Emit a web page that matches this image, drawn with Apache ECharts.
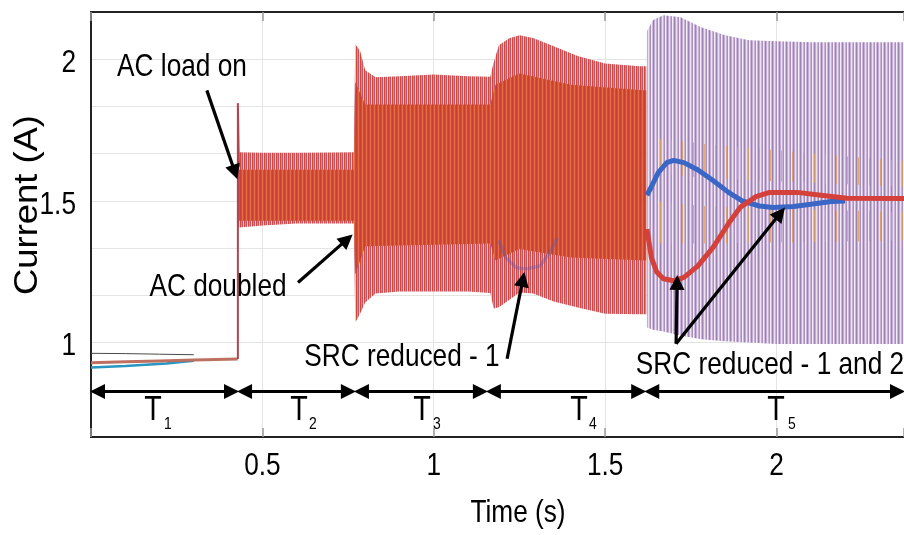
<!DOCTYPE html>
<html><head><meta charset="utf-8">
<script src="https://cdn.jsdelivr.net/npm/echarts@6/dist/echarts.min.js"></script>
<style>html,body{margin:0;padding:0;background:#fff}#c{width:904px;height:535px}</style>
</head><body><div id="c"></div>
<script>
// ---------------- data ----------------
const xTickValues = [0.5, 1, 1.5, 2];
const yTickValues = [1, 1.5, 2];
// T1 traces (time s, current A)
const t1Grey = [[0,0.962],[0.1,0.961],[0.2,0.959],[0.3,0.957]];
const t1Red  = [[0,0.929],[0.1,0.932],[0.2,0.935],[0.3,0.938],[0.428,0.942]];
const t1Blue = [[0,0.912],[0.1,0.917],[0.22,0.926],[0.3,0.936]];
// AC load switching spike
const spike = [[0.4285,0.942],[0.4285,1.845],[0.4305,1.845],[0.4315,1.62]];
// oscillation envelope T2..T4
const envT  = [0.429,0.432,0.50,0.60,0.70,0.767,0.771,0.785,0.80,0.83,0.90,1.00,1.10,1.165,1.175,1.19,1.22,1.25,1.29,1.35,1.42,1.50,1.60,1.620];
const envUp = [1.672,1.672,1.670,1.670,1.671,1.672,2.053,2.030,1.961,1.936,1.940,1.946,1.940,1.938,1.989,2.049,2.074,2.085,2.075,2.046,2.011,1.985,1.975,1.975];
const envLo = [1.406,1.406,1.413,1.420,1.420,1.420,1.071,1.102,1.141,1.173,1.180,1.180,1.180,1.175,1.120,1.125,1.150,1.177,1.173,1.145,1.124,1.102,1.100,1.100];
// dense core of the oscillation T2..T4
const coreT  = [0.432,0.767,0.771,0.80,1.165,1.18,1.25,1.40,1.620];
const coreUp = [1.610,1.610,1.920,1.840,1.840,1.910,1.950,1.910,1.890];
const coreLo = [1.430,1.430,1.240,1.340,1.350,1.290,1.330,1.300,1.290];
// oscillation envelope T5
const t5T  = [1.622,1.64,1.67,1.72,1.78,1.85,1.92,2.00,2.10,2.20,2.372];
const t5Up = [2.099,2.138,2.155,2.148,2.113,2.085,2.067,2.063,2.060,2.060,2.060];
const t5Lo = [1.053,1.045,1.039,1.025,1.012,1.005,1.000,0.995,0.995,0.995,0.995];
// orange trace peaks / troughs inside T5
const orT    = [1.64,1.80,2.372];
const orHiUp = [1.72,1.70,1.64];
const orHiLo = [1.60,1.58,1.55];
const orLoUp = [1.50,1.48,1.46];
const orLoLo = [1.35,1.35,1.36];
// SRC-1 mean current dip in T4
const dipT4 = [[1.19,1.36],[1.21,1.30],[1.24,1.265],[1.27,1.26],[1.31,1.27],[1.34,1.32],[1.36,1.37]];
// SRC mean currents in T5
const blueT5 = [[1.622,1.52],[1.635,1.55],[1.655,1.60],[1.68,1.635],[1.70,1.643],[1.73,1.635],[1.77,1.61],[1.815,1.572],[1.86,1.53],[1.90,1.50],[1.95,1.482],[1.99,1.477],[2.05,1.48],[2.10,1.488],[2.16,1.498],[2.20,1.50]];
const redT5  = [[1.622,1.40],[1.635,1.30],[1.65,1.25],[1.67,1.225],[1.70,1.218],[1.73,1.23],[1.77,1.27],[1.815,1.336],[1.86,1.42],[1.894,1.477],[1.94,1.515],[1.98,1.53],[2.06,1.53],[2.13,1.52],[2.206,1.509],[2.372,1.508]];
// period boundaries
const periodBounds = [0, 0.429, 0.770, 1.155, 1.617, 2.372];
const periodNames = ['1','2','3','4','5'];

// ---------------- helpers ----------------
const SANS = '"Liberation Sans",Arial,sans-serif';
const NARROW_SCALE = 0.82;
function stripes(cols, h) {
  const c = document.createElement('canvas');
  c.width = cols.length; c.height = h || 4;
  const ctx = c.getContext('2d');
  cols.forEach((col, i) => { ctx.fillStyle = col; ctx.fillRect(i, 0, 1, c.height); });
  return { image: c, repeat: 'repeat' };
}
function bandSeries(id, ts, lo, hi, fill, z) {
  return { type:'custom', id:id, z:z, silent:true, animation:false, clip:true,
    data: ts.map((t,i)=>[t, lo[i], hi[i]]),
    encode:{x:0, y:[1,2]},
    renderItem: function (params, api) {
      if (params.dataIndexInside !== 0) return null;
      const n = params.dataInsideLength, top = [], bot = [];
      for (let i = 0; i < n; i++) {
        top.push(api.coord([api.value(0,i), api.value(2,i)]));
        bot.push(api.coord([api.value(0,i), api.value(1,i)]));
      }
      return { type:'polygon', shape:{points: top.concat(bot.reverse())}, style:{fill: fill, stroke: null} };
    }
  };
}
function line(id, data, color, width, z, opacity) {
  return { type:'line', id:id, data:data, symbol:'none', silent:true, animation:false, z:z,
    lineStyle:{color:color, width:width, opacity: opacity==null?1:opacity} };
}

const outerFill = stripes(['#d04a3a','#e3884e','#bd5870','#eec2b6']);
const coreFill  = stripes(['#cc3e35','#d64c3b','#e07044','#ca4a46']);
const t5Fill    = stripes(['#f2ecf4','#cdb9da','#9d80b4','#c5aed5','#ebe2ef','#c8b2d7','#a98ec1']);
const TR = 'rgba(0,0,0,0)';
const orFill    = stripes(['rgba(222,158,90,0.8)',TR,TR,TR,TR,TR,TR,TR,TR,TR,TR]);

// annotation arrows (data coordinates)
const arrowLines = [
  [[0.338,1.890],[0.420,1.601]],
  [[0.604,1.212],[0.747,1.364]],
  [[1.214,0.943],[1.260,1.223]],
  [[1.707,0.996],[1.710,1.212]],
  [[1.707,0.996],[2.011,1.456]]
];
const HALF = 0.019;
const markData = arrowLines.map(p => [{coord:p[0], symbol:'none'},{coord:p[1], symbol:'triangle'}]);
for (let i = 0; i < 5; i++) {
  markData.push([{coord:[periodBounds[i]+HALF,0.827], symbol:'triangle'},{coord:[periodBounds[i+1]-HALF,0.827], symbol:'triangle'}]);
}

const series = [].concat(
  [line('t1grey', t1Grey, '#4a4a4a', 1, 3), line('t1blue', t1Blue, '#2796c2', 2.5, 3), line('t1red', t1Red, '#bd7060', 3, 4)],
  [line('spike', spike, '#b04450', 2, 5)],
  [bandSeries('env', envT, envLo, envUp, outerFill, 5)],
  [bandSeries('core', coreT, coreLo, coreUp, coreFill, 6)],
  [line('dip', dipT4, '#6a58a8', 3.5, 7, 0.42)],
  [bandSeries('t5', t5T, t5Lo, t5Up, t5Fill, 5)],
  [bandSeries('or5a', orT, orHiLo, orHiUp, orFill, 6)],
  [bandSeries('or5b', orT, orLoLo, orLoUp, orFill, 6)],
  [line('blue5', blueT5, '#3a66c6', 5, 8)],
  [Object.assign(line('red5', redT5, '#d4403a', 5, 9), {
    markLine: { silent:true, animation:false, z:30, symbolSize:15, label:{show:false},
      lineStyle:{color:'#000', width:3.2, type:'solid'}, emphasis:{disabled:true}, data: markData }
  })]
);

const chart = echarts.init(document.getElementById('c'), null, {renderer:'canvas'});
chart.setOption({
  animation:false,
  backgroundColor:'#fff',
  grid:{left:91, right:0, top:12, bottom:98},
  xAxis:[{
    type:'value', min:0, max:2.372, interval:0.5,
    axisLine:{show:true, lineStyle:{color:'#222', width:2}},
    axisTick:{show:true, inside:true, length:9, lineStyle:{color:'#999', width:1.5}},
    splitLine:{show:true, lineStyle:{color:'#e4e4e4', width:1}},
    axisLabel:{show:false}
  },{
    type:'value', position:'top', min:0, max:2.372, interval:0.5,
    axisLine:{show:true, lineStyle:{color:'#222', width:2}},
    axisTick:{show:true, inside:true, length:9, lineStyle:{color:'#999', width:1.5}},
    splitLine:{show:false}, axisLabel:{show:false}
  }],
  yAxis:{
    type:'value', min:4/6, max:13/6, interval:1/6,
    axisLine:{show:true, lineStyle:{color:'#222', width:2}},
    axisTick:{show:false},
    splitLine:{show:true, lineStyle:{color:'#e4e4e4', width:1}},
    axisLabel:{show:false}
  },
  series: series
});

// ---------------- texts (tick labels placed through the axis scales) ----------------
function txt(x, y, text, size, opts) {
  opts = opts || {};
  return { type:'text', x:x, y:y, z:100, silent:true,
    rotation: opts.rotation || 0, scaleX: opts.scaleX == null ? NARROW_SCALE : opts.scaleX,
    style:{ text:text, font: size + 'px ' + SANS, fill:'#000', align: opts.align || 'center', verticalAlign:'middle' } };
}
const g = [];
xTickValues.forEach(v => {
  const px = chart.convertToPixel({xAxisIndex:0}, v);
  g.push(txt(px, 466, String(v), 32));
});
yTickValues.forEach(v => {
  const py = chart.convertToPixel({yAxisIndex:0}, v);
  g.push(txt(76, py + 4, String(v), 32, {align:'right'}));
});
g.push(txt(28, 205, 'Current (A)', 34, {rotation: Math.PI/2, scaleX: 1.07}));
g.push(txt(518, 513, 'Time (s)', 32));
g.push(txt(182, 67, 'AC load on', 32));
g.push(txt(218, 287, 'AC doubled', 32));
g.push(txt(402, 357, 'SRC reduced - 1', 32));
g.push(txt(770, 365, 'SRC reduced - 1 and 2', 32));
const tPos = [[153,168],[299,313],[422,437],[579,593],[776,792]];
tPos.forEach((p, i) => {
  g.push(txt(p[0], 410, 'T', 35));
  g.push(txt(p[1], 424, periodNames[i], 17));
});
chart.setOption({ graphic: g });
</script></body></html>
